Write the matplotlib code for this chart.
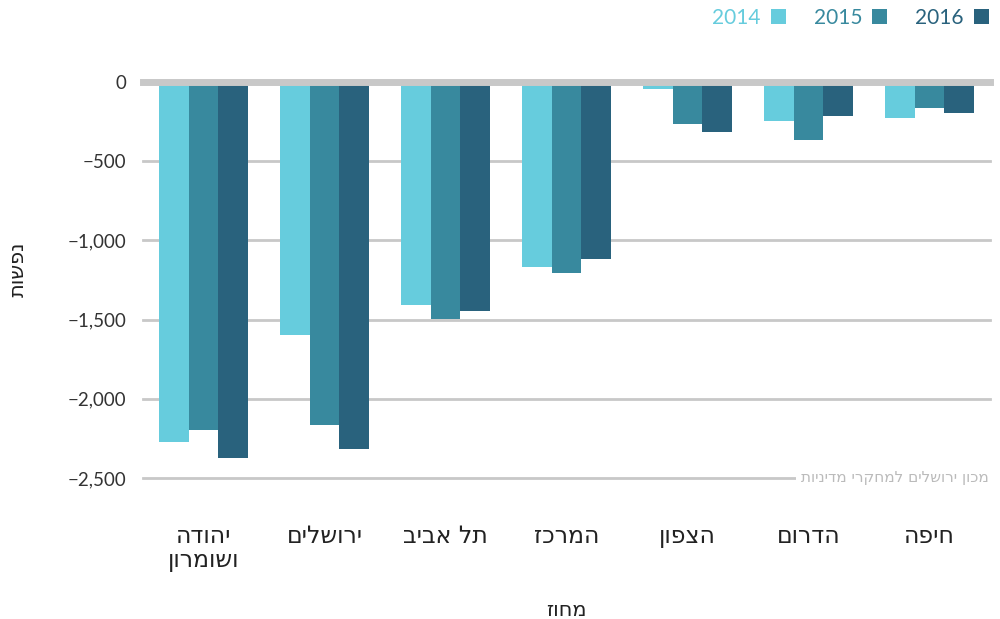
import numpy as np
import matplotlib.pyplot as plt
from matplotlib.patches import Patch
from matplotlib.ticker import FuncFormatter

# districts, left to right as in the chart
districts = ["יהודה\nושומרון", "ירושלים", "תל אביב", "המרכז", "הצפון", "הדרום", "חיפה"]
years = ["2014", "2015", "2016"]
v2014 = [-2270, -1600, -1405, -1170, -42, -248, -230]
v2015 = [-2200, -2163, -1495, -1205, -266, -367, -162]
v2016 = [-2373, -2315, -1445, -1117, -316, -212, -197]
yticks = [0, -500, -1000, -1500, -2000, -2500]

colors = ["#66CCDD", "#38899E", "#29627D"]
grid_c = "#C8C8C8"
heb = ["DejaVu Sans"]


def rtl(s):
    # matplotlib has no bidi, flip each line by hand
    return "\n".join(line[::-1] for line in s.split("\n"))


fig = plt.figure(figsize=(10, 6.19), dpi=100)
ax = fig.add_axes([0.143, 0.2278, 0.847, 0.6397])

x = np.arange(len(districts))
w = 0.247
for i, vals in enumerate([v2014, v2015, v2016]):
    ax.bar(x + (i - 1) * w, vals, width=w, color=colors[i], zorder=2)

ax.set_xlim(-0.5, len(districts) - 0.5)
ax.set_ylim(-2500, 0)

for t in yticks:
    ax.axhline(t, color=grid_c, lw=5 if t == 0 else 2, zorder=3 if t == 0 else 1,
               clip_on=False)

for s in ax.spines.values():
    s.set_visible(False)

ax.set_yticks(yticks)
ax.yaxis.set_major_formatter(FuncFormatter(
    lambda v, p: "0" if v == 0 else "\u2212" + format(int(abs(v)), ",")))
ax.tick_params(axis="y", length=0, pad=12, labelsize=13.5, labelcolor="#333333")
for lab in ax.get_yticklabels():
    lab.set_family("Lato")

ax.set_xticks(x)
ax.set_xticklabels([rtl(d) for d in districts], family=heb, fontsize=17,
                   color="#222222", linespacing=1.0)
ax.tick_params(axis="x", length=0, pad=33)

ax.set_xlabel(rtl("מחוז"), family=heb, fontsize=15, color="#222222", labelpad=20)
fig.text(0.018, 0.565, rtl("נפשות"), rotation=90, family=heb, fontsize=15,
         color="#222222", ha="center", va="center")

ax.text(0.998, 0.0, rtl("מכון ירושלים למחקרי מדיניות"), transform=ax.transAxes,
        ha="right", va="center", family=heb, fontsize=11, color="#BBBBBB",
        bbox=dict(facecolor="white", edgecolor="none", pad=3), zorder=5)

handles = [Patch(facecolor=c, edgecolor="none") for c in colors]
leg = fig.legend(handles, years, loc="upper right", bbox_to_anchor=(0.989, 0.987),
                 ncol=3, frameon=False, markerfirst=False, handlelength=0.72,
                 handleheight=0.72, handletextpad=0.48, columnspacing=1.35,
                 borderpad=0, borderaxespad=0,
                 prop={"family": "Lato", "size": 15})
for t, c in zip(leg.get_texts(), colors):
    t.set_color(c)

fig.savefig("out.png", dpi=100)
